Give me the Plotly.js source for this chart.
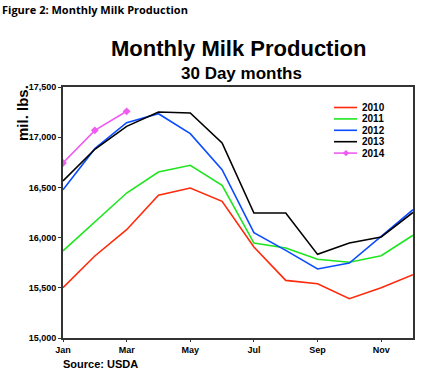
<!DOCTYPE html>
<html><head><meta charset="utf-8">
<script src="https://cdn.plot.ly/plotly-3.0.1.min.js"></script>
<style>html,body{margin:0;padding:0;background:#fff;}#chart{width:423px;height:375px;}</style>
</head><body><div id="chart"></div>
<script>
const months = ['Jan','Feb','Mar','Apr','May','Jun','Jul','Aug','Sep','Oct','Nov','Dec'];
const tickLabels = ['Jan','Mar','May','Jul','Sep','Nov'];
const y2010 = [15501,15817,16079,16421,16494,16361,15906,15574,15541,15392,15501,15631];
const y2011 = [15867,16155,16444,16653,16720,16521,15946,15896,15784,15754,15820,16023];
const y2012 = [16477,16886,17145,17234,17035,16677,16049,15873,15687,15747,16013,16278];
const y2013 = [16564,16880,17108,17251,17241,16942,16245,16245,15833,15946,16006,16250];
const y2014 = [16743,17068,17258];
const yTicks = [15000,15500,16000,16500,17000,17500];
const yTickText = ['15,000','15,500','16,000','16,500','17,000','17,500'];

const x = months.map((m,i)=>i);
const series = [
  {name:'2010', y:y2010, color:'#ff2a0a'},
  {name:'2011', y:y2011, color:'#1ee61e'},
  {name:'2012', y:y2012, color:'#0a4dff'},
  {name:'2013', y:y2013, color:'#000000'},
  {name:'2014', y:y2014, color:'#f05cf0', marker:true}
];
const traces = series.map(s=>{
  const t = {
    type:'scatter', x:x.slice(0,s.y.length), y:s.y, name:s.name,
    mode: s.marker ? 'lines+markers' : 'lines',
    line:{color:s.color, width:1.6}
  };
  if (s.marker) t.marker = {symbol:'diamond', size:6, color:s.color};
  return t;
});

// plot area geometry in pixels (for placing text / custom legend)
const L=63, T=87, W=350, H=251;
const px = v => (v-L)/W;
const py = v => 1-(v-T)/H;

const shapes = [];
const annotations = [
  {text:'<b>Figure 2: Monthly Milk Production</b>', xref:'paper', yref:'paper', x:px(0), y:py(9), xanchor:'left', yanchor:'middle', showarrow:false, font:{size:11, family:'Open Sans, Liberation Sans'}},
  {text:'<b>Monthly Milk Production</b>', xref:'paper', yref:'paper', x:px(238), y:py(49), xanchor:'center', yanchor:'middle', showarrow:false, font:{size:22, family:'Liberation Sans, Arial'}},
  {text:'<b>30 Day months</b>', xref:'paper', yref:'paper', x:px(241), y:py(73), xanchor:'center', yanchor:'middle', showarrow:false, font:{size:17, family:'Liberation Sans, Arial'}},
  {text:'<b>mil. lbs.</b>', xref:'paper', yref:'paper', x:px(22), y:py(113), xanchor:'center', yanchor:'middle', textangle:-90, showarrow:false, font:{size:15, family:'Liberation Sans, Arial'}},
  {text:'<b>Source: USDA</b>', xref:'paper', yref:'paper', x:px(61), y:py(364), xanchor:'left', yanchor:'middle', showarrow:false, font:{size:11, family:'Liberation Sans, Arial'}}
];
// custom compact legend
const legY0 = 107.5, legDY = 11.4;
series.forEach((s,i)=>{
  const yy = legY0 + i*legDY;
  shapes.push({type:'line', xref:'paper', yref:'paper', x0:px(334), x1:px(357), y0:py(yy), y1:py(yy), line:{color:s.color, width:1.6}});
  if (s.marker) {
    const cx=346, r=3.2;
    shapes.push({type:'path', xref:'paper', yref:'paper', fillcolor:s.color, line:{width:0},
      path:`M ${px(cx)} ${py(yy-r)} L ${px(cx+r)} ${py(yy)} L ${px(cx)} ${py(yy+r)} L ${px(cx-r)} ${py(yy)} Z`});
  }
  annotations.push({text:'<b>'+s.name+'</b>', xref:'paper', yref:'paper', x:px(360), y:py(yy), xanchor:'left', yanchor:'middle', showarrow:false, font:{size:10, family:'Liberation Sans, Arial'}});
});

const layout = {
  width:423, height:375,
  margin:{l:L, r:423-L-W, t:T, b:375-T-H},
  paper_bgcolor:'#fff', plot_bgcolor:'#fff',
  font:{family:'Liberation Sans, Arial, sans-serif', color:'#000'},
  showlegend:false,
  xaxis:{range:[0,11], tickmode:'array', tickvals:[0,2,4,6,8,10], ticktext:tickLabels,
    showgrid:false, zeroline:false, showline:true, linecolor:'#333', linewidth:2, mirror:true,
    ticks:'outside', ticklen:2, tickcolor:'#333',
    tickfont:{size:9, family:'Liberation Sans, Arial', weight:'bold'}},
  yaxis:{range:[15000,17500], tickmode:'array', tickvals:yTicks, ticktext:yTickText,
    showgrid:false, zeroline:false, showline:true, linecolor:'#333', linewidth:2, mirror:true,
    ticks:'outside', ticklen:3, tickcolor:'#333',
    tickfont:{size:9, family:'Liberation Sans, Arial', weight:'bold'}},
  shapes:shapes,
  annotations:annotations
};
Plotly.newPlot('chart', traces, layout, {displayModeBar:false, staticPlot:true});
</script></body></html>
